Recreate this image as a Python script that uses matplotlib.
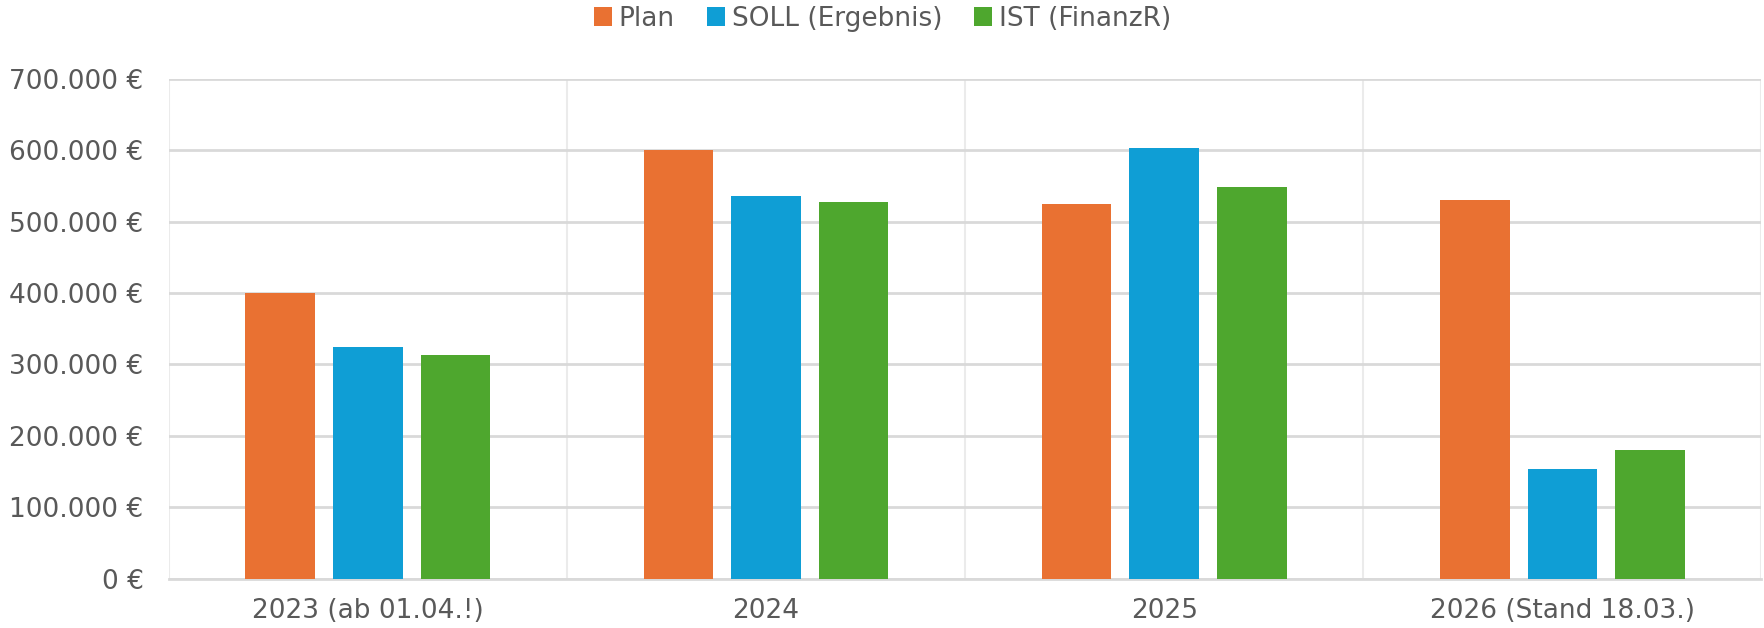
import numpy as np
import matplotlib.pyplot as plt
from matplotlib.ticker import FuncFormatter

# values
categories = ['2023 (ab 01.04.!)', '2024', '2025', '2026 (Stand 18.03.)']
plan = [400000, 600000, 524500, 530000]
soll = [324700, 535400, 602800, 152900]
ist = [313000, 527000, 547800, 179500]
series_names = ['Plan', 'SOLL (Ergebnis)', 'IST (FinanzR)']
colors = ['#E97132', '#0F9ED5', '#4EA72E']

fig = plt.figure(figsize=(17.65, 6.28), dpi=100)
ax = fig.add_axes([0.0956, 0.0787, 0.9024, 0.7958])

x = np.arange(len(categories))
width = 0.175
step = 0.22
for i, (vals, name, col) in enumerate(zip([plan, soll, ist], series_names, colors)):
    ax.bar(x + (i - 1) * step, vals, width, color=col, label=name, zorder=3)

ax.set_xlim(-0.5, len(categories) - 0.5)
ax.set_ylim(0, 700000)
ax.set_yticks(np.arange(0, 700001, 100000))

def euro(v, pos):
    return f'{int(v):,} €'.replace(',', '.')

ax.yaxis.set_major_formatter(FuncFormatter(euro))

# horizontal grid lines
ax.grid(axis='y', color='#d9d9d9', linewidth=2, zorder=0)
# vertical category separators
for b in np.arange(-0.5, len(categories), 1):
    ax.axvline(b, color='#ebebeb', linewidth=1.5, zorder=0)

for s in ['top', 'left', 'right']:
    ax.spines[s].set_visible(False)
ax.spines['bottom'].set_color('#d9d9d9')
ax.spines['bottom'].set_linewidth(2)

ax.set_xticks(x)
ax.set_xticklabels(categories)
ax.tick_params(axis='both', length=0, labelsize=19, colors='#595959')
ax.tick_params(axis='x', pad=14)
ax.tick_params(axis='y', pad=18)

fig.legend(loc='center', bbox_to_anchor=(0.5, 0.97), ncol=3, frameon=False,
           fontsize=19, labelcolor='#595959', handlelength=0.7, handleheight=0.7,
           handletextpad=0.25, columnspacing=1.2)

plt.savefig('out.png', dpi=100)
plt.close()
